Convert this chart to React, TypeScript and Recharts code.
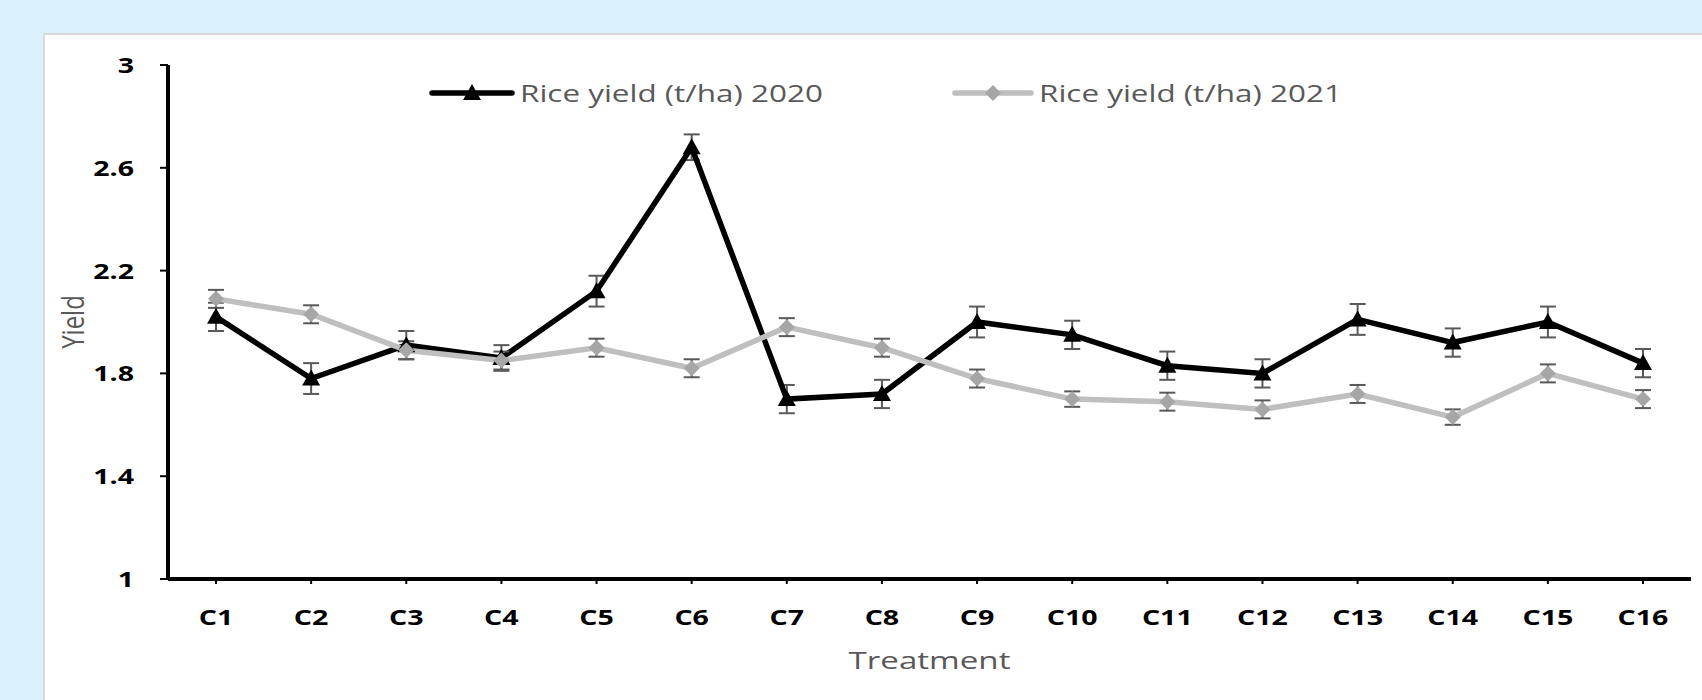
import { LineChart, Line, XAxis, YAxis, ErrorBar, Legend, Label } from "recharts";

const treatments = ["C1", "C2", "C3", "C4", "C5", "C6", "C7", "C8", "C9", "C10", "C11", "C12", "C13", "C14", "C15", "C16"];
const yield2020 = [2.02, 1.78, 1.91, 1.86, 2.12, 2.68, 1.7, 1.72, 2.0, 1.95, 1.83, 1.8, 2.01, 1.92, 2.0, 1.84];
const yield2021 = [2.09, 2.03, 1.89, 1.85, 1.9, 1.82, 1.98, 1.9, 1.78, 1.7, 1.69, 1.66, 1.72, 1.63, 1.8, 1.7];
const err2020 = [0.055, 0.06, 0.055, 0.05, 0.06, 0.05, 0.055, 0.055, 0.06, 0.055, 0.055, 0.055, 0.06, 0.055, 0.06, 0.055];
const err2021 = [0.035, 0.035, 0.035, 0.035, 0.035, 0.035, 0.035, 0.035, 0.035, 0.03, 0.035, 0.035, 0.035, 0.03, 0.035, 0.035];
const yTicks = [1, 1.4, 1.8, 2.2, 2.6, 3];
const seriesNames = ["Rice yield (t/ha) 2020", "Rice yield (t/ha) 2021"];

const data = treatments.map((t, i) => ({
  treatment: t,
  y2020: yield2020[i],
  e2020: err2020[i],
  y2021: yield2021[i],
  e2021: err2021[i],
}));

const FONT = "'Open Sans', sans-serif";
const SX = 1.3;

const triangle = (cx: number, cy: number) =>
  `M${cx},${cy - 9} L${cx - 9},${cy + 7} L${cx + 9},${cy + 7} Z`;
const diamond = (cx: number, cy: number) =>
  `M${cx},${cy - 8} L${cx + 8},${cy} L${cx},${cy + 8} L${cx - 8},${cy} Z`;

const TriangleDot = (props: any) => (
  <path key={`t-${props.index}`} d={triangle(props.cx, props.cy)} fill="#000" />
);
const DiamondDot = (props: any) => (
  <path key={`d-${props.index}`} d={diamond(props.cx, props.cy)} fill="#a6a6a6" />
);

const XTick = (props: any) => (
  <g transform={`translate(${props.x},${props.y})`}>
    <text
      y={31}
      dy="0.36em"
      textAnchor="middle"
      transform={`scale(${SX},1)`}
      fontFamily={FONT}
      fontWeight={700}
      fontSize={22}
      fill="#000"
    >
      {props.payload.value}
    </text>
  </g>
);

const YTick = (props: any) => (
  <g transform={`translate(${props.x},${props.y})`}>
    <text
      dy="0.36em"
      textAnchor="end"
      transform={`scale(${SX},1)`}
      fontFamily={FONT}
      fontWeight={700}
      fontSize={22}
      fill="#000"
    >
      {props.payload.value}
    </text>
  </g>
);

const LegendContent = () => (
  <svg width={1150} height={34} style={{ overflow: "visible" }}>
    <line x1={7} y1={17} x2={87} y2={17} stroke="#000" strokeWidth={5.5} strokeLinecap="round" />
    <path d={triangle(47, 17)} fill="#000" />
    <g transform={`translate(95,0) scale(1.31,1)`}>
      <text y={17} dy="0.36em" fontFamily={FONT} fontSize={24} fill="#595959">
        {seriesNames[0]}
      </text>
    </g>
    <line x1={530} y1={17} x2={606} y2={17} stroke="#bfbfbf" strokeWidth={5.5} strokeLinecap="round" />
    <path d={diamond(568, 17)} fill="#a6a6a6" />
    <g transform={`translate(614,0) scale(1.31,1)`}>
      <text y={17} dy="0.36em" fontFamily={FONT} fontSize={24} fill="#595959">
        {seriesNames[1]}
      </text>
    </g>
  </svg>
);

export default function App() {
  return (
    <div style={{ position: "absolute", left: 0, top: 0, width: 1702, height: 700, background: "#daf0fb", overflow: "hidden" }}>
      <div
        style={{
          position: "absolute",
          left: 43,
          top: 33,
          width: 1702 - 43,
          height: 700 - 33,
          background: "#fff",
          borderTop: "2px solid #d9d9d9",
          borderLeft: "2px solid #d9d9d9",
          boxSizing: "border-box",
        }}
      />
      <div style={{ position: "absolute", left: 0, top: 0 }}>
        <LineChart width={1702} height={700} data={data} margin={{ top: 65, right: 11, bottom: 91, left: 108 }}>
          <XAxis
            dataKey="treatment"
            height={30}
            padding={{ left: 48, right: 48 }}
            axisLine={{ stroke: "#000", strokeWidth: 4 }}
            tickLine={{ stroke: "#000", strokeWidth: 2 }}
            tickSize={5}
            tick={<XTick />}
            interval={0}
          >
            <Label
              content={(p: any) => {
                const vb = p.viewBox;
                const cx = vb.x + vb.width / 2;
                return (
                  <g transform={`translate(${cx},${vb.y + 81}) scale(1.38,1)`}>
                    <text textAnchor="middle" dy="0.36em" fontFamily={FONT} fontSize={24} fill="#595959">
                      Treatment
                    </text>
                  </g>
                );
              }}
            />
          </XAxis>
          <YAxis
            width={60}
            domain={[1, 3]}
            ticks={yTicks}
            type="number"
            axisLine={{ stroke: "#000", strokeWidth: 4 }}
            tickLine={{ stroke: "#000", strokeWidth: 2 }}
            tickSize={8}
            tickMargin={26}
            tick={<YTick />}
          >
            <Label
              content={(p: any) => {
                const vb = p.viewBox;
                const x = vb.x + vb.width - 95;
                const y = vb.y + vb.height / 2;
                return (
                  <g transform={`translate(${x},${y}) rotate(-90) scale(1,1.3)`}>
                    <text textAnchor="middle" dy="0.36em" fontFamily={FONT} fontSize={24} fill="#595959">
                      Yield
                    </text>
                  </g>
                );
              }}
            />
          </YAxis>
          <Legend
            layout="horizontal"
            verticalAlign="middle"
            align="center"
            content={<LegendContent />}
            wrapperStyle={{ position: "absolute", top: 76, left: 425, width: 1150, height: 34 }}
          />
          <Line
            type="linear"
            dataKey="y2020"
            name={seriesNames[0]}
            stroke="#000"
            strokeWidth={5.5}
            dot={TriangleDot}
            activeDot={false}
            isAnimationActive={false}
          >
            <ErrorBar dataKey="e2020" direction="y" width={8} stroke="#595959" strokeWidth={2} />
          </Line>
          <Line
            type="linear"
            dataKey="y2021"
            name={seriesNames[1]}
            stroke="#bfbfbf"
            strokeWidth={5.5}
            dot={DiamondDot}
            activeDot={false}
            isAnimationActive={false}
          >
            <ErrorBar dataKey="e2021" direction="y" width={8} stroke="#595959" strokeWidth={2} />
          </Line>
        </LineChart>
      </div>
    </div>
  );
}
